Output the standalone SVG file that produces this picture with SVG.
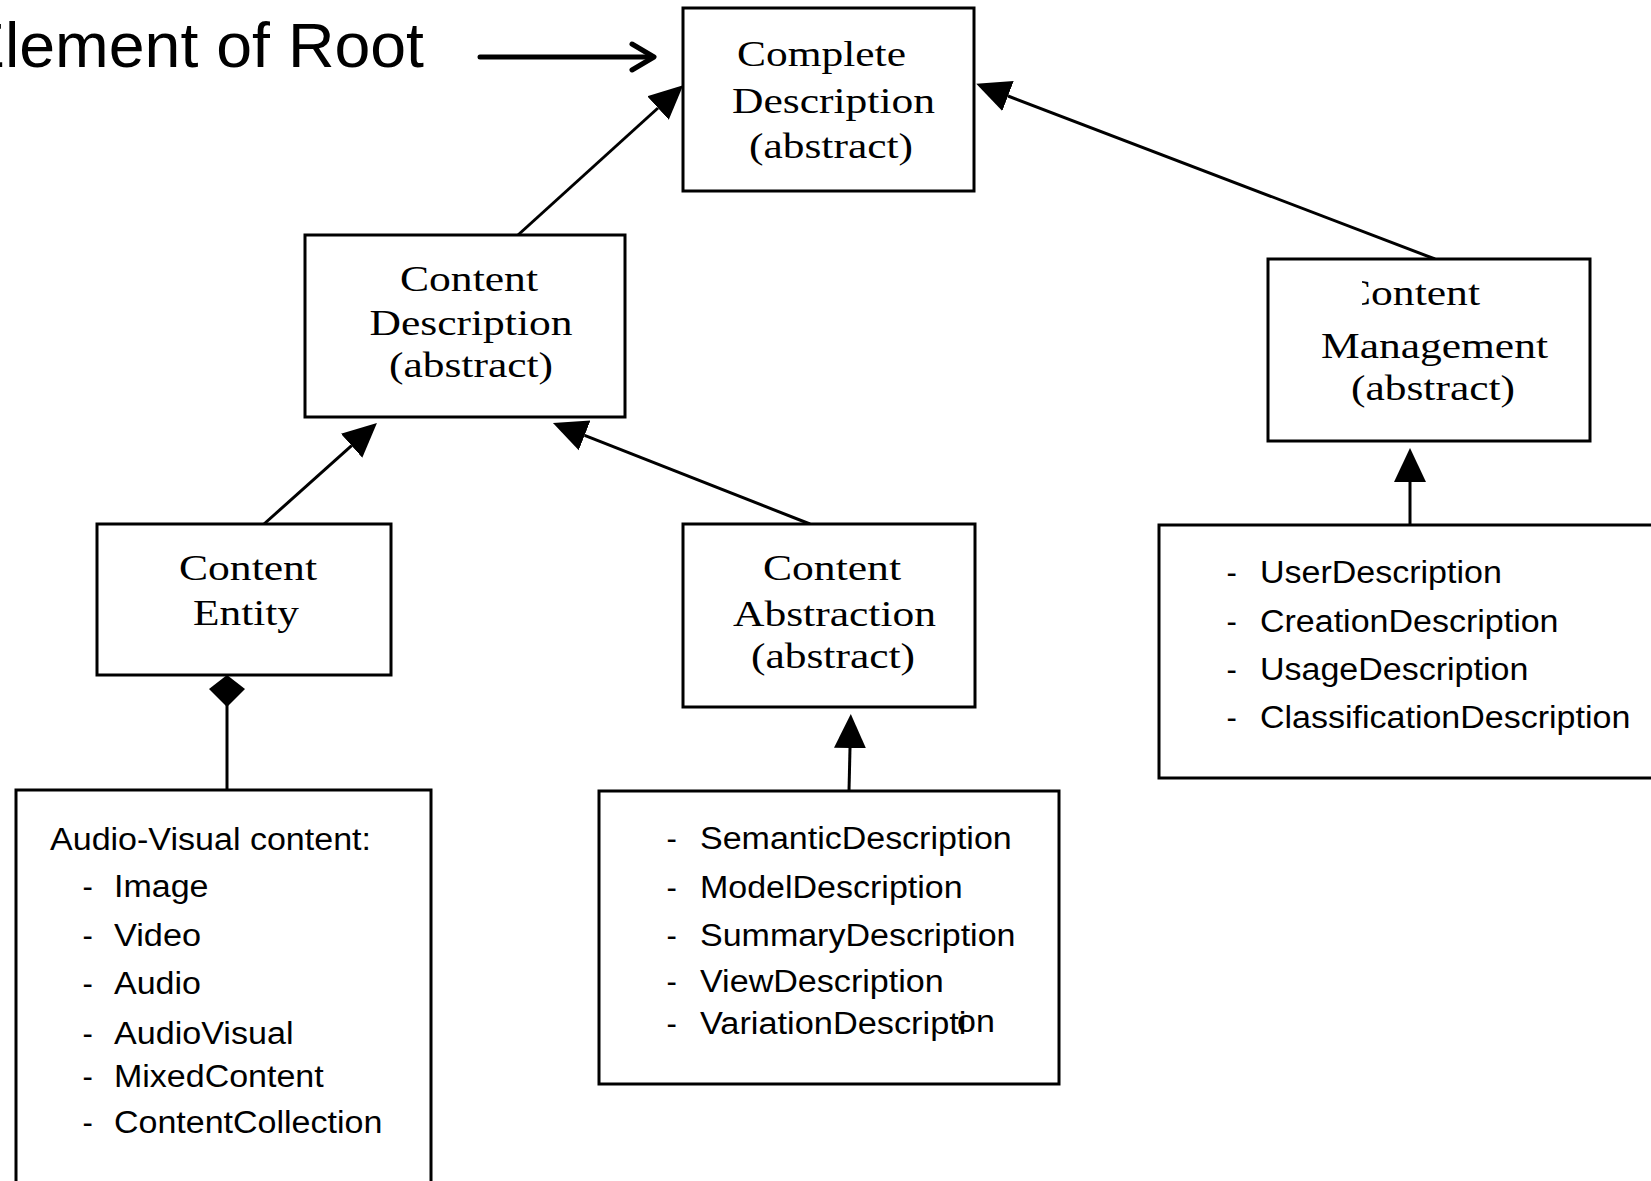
<svg xmlns="http://www.w3.org/2000/svg" width="1651" height="1181" viewBox="0 0 1651 1181">
<style>
.box{fill:#fff;stroke:#000;stroke-width:3}
.ser{font-family:"Liberation Serif","Times New Roman",serif;font-size:36px;fill:#000}
.san{font-family:"Liberation Sans",Arial,sans-serif;font-size:31px;fill:#000}
.big{font-family:"Liberation Sans",Arial,sans-serif;font-size:63px;fill:#000}
.ln{fill:none;stroke:#000;stroke-width:3}
</style>
<defs>
<marker id="tri" markerUnits="userSpaceOnUse" markerWidth="40" markerHeight="40" viewBox="0 -20 40 40" refX="0" refY="0" orient="auto">
<path d="M0,-16 L34,0 L0,16 Z" fill="#000"/>
</marker>
<clipPath id="cmclip"><rect x="1362" y="260" width="200" height="60"/></clipPath>
</defs>
<rect width="1651" height="1181" fill="#fff"/>

<g id="root-label">
<text class="big" x="-38" y="67" textLength="462" lengthAdjust="spacingAndGlyphs">Element of Root</text>
</g>

<g id="connectors">
<line class="ln" x1="480" y1="57" x2="652" y2="57" style="stroke-width:5" stroke-linecap="round"/>
<polyline points="632,44 654,57 632,70" fill="none" stroke="#000" stroke-width="5" stroke-linecap="round" stroke-linejoin="round"/>
<line class="ln" x1="518" y1="235" x2="658" y2="108" marker-end="url(#tri)"/>
<line class="ln" x1="1435" y1="259" x2="1008" y2="96" marker-end="url(#tri)"/>
<line class="ln" x1="264" y1="524" x2="351.6" y2="445.7" marker-end="url(#tri)"/>
<line class="ln" x1="810" y1="524" x2="584.6" y2="435.4" marker-end="url(#tri)"/>
<line class="ln" x1="849" y1="791" x2="850" y2="748" marker-end="url(#tri)"/>
<line class="ln" x1="1410" y1="525" x2="1410" y2="482" marker-end="url(#tri)"/>
<line class="ln" x1="227" y1="790" x2="227" y2="705"/>
<polygon points="227,675 245,689 227,707 209,689" fill="#000"/>
</g>

<g id="complete-description">
<rect class="box" x="683" y="8" width="291" height="183"/>
<text class="ser" x="737" y="66" textLength="169" lengthAdjust="spacingAndGlyphs">Complete</text>
<text class="ser" x="732" y="113" textLength="203" lengthAdjust="spacingAndGlyphs">Description</text>
<text class="ser" x="749" y="158" textLength="164" lengthAdjust="spacingAndGlyphs">(abstract)</text>
</g>

<g id="content-description">
<rect class="box" x="305" y="235" width="320" height="182"/>
<text class="ser" x="400" y="291" textLength="138" lengthAdjust="spacingAndGlyphs">Content</text>
<text class="ser" x="369.5" y="335" textLength="203" lengthAdjust="spacingAndGlyphs">Description</text>
<text class="ser" x="389" y="377" textLength="164" lengthAdjust="spacingAndGlyphs">(abstract)</text>
</g>

<g id="content-management">
<rect class="box" x="1268" y="259" width="322" height="182"/>
<text class="ser" x="1342" y="305" textLength="138" lengthAdjust="spacingAndGlyphs" clip-path="url(#cmclip)">Content</text>
<text class="ser" x="1321" y="358" textLength="227" lengthAdjust="spacingAndGlyphs">Management</text>
<text class="ser" x="1351" y="400" textLength="164" lengthAdjust="spacingAndGlyphs">(abstract)</text>
</g>

<g id="content-entity">
<rect class="box" x="97" y="524" width="294" height="151"/>
<text class="ser" x="179" y="580" textLength="138" lengthAdjust="spacingAndGlyphs">Content</text>
<text class="ser" x="193" y="625" textLength="106" lengthAdjust="spacingAndGlyphs">Entity</text>
</g>

<g id="content-abstraction">
<rect class="box" x="683" y="524" width="292" height="183"/>
<text class="ser" x="763" y="580" textLength="138" lengthAdjust="spacingAndGlyphs">Content</text>
<text class="ser" x="733" y="626" textLength="203" lengthAdjust="spacingAndGlyphs">Abstraction</text>
<text class="ser" x="751" y="668" textLength="164" lengthAdjust="spacingAndGlyphs">(abstract)</text>
</g>

<g id="av-content-list">
<rect class="box" x="16" y="790" width="415" height="420"/>
<text class="san" x="50" y="850" textLength="321" lengthAdjust="spacingAndGlyphs">Audio-Visual content:</text>
<text class="san" x="82.5" y="897">-</text>
<text class="san" x="114" y="897" textLength="94.5" lengthAdjust="spacingAndGlyphs">Image</text>
<text class="san" x="82.5" y="946">-</text>
<text class="san" x="114" y="946" textLength="87" lengthAdjust="spacingAndGlyphs">Video</text>
<text class="san" x="82.5" y="994">-</text>
<text class="san" x="114" y="994" textLength="87" lengthAdjust="spacingAndGlyphs">Audio</text>
<text class="san" x="82.5" y="1044">-</text>
<text class="san" x="114" y="1044" textLength="179.5" lengthAdjust="spacingAndGlyphs">AudioVisual</text>
<text class="san" x="82.5" y="1087">-</text>
<text class="san" x="114" y="1087" textLength="209.7" lengthAdjust="spacingAndGlyphs">MixedContent</text>
<text class="san" x="82.5" y="1133">-</text>
<text class="san" x="114" y="1133" textLength="268.3" lengthAdjust="spacingAndGlyphs">ContentCollection</text>
</g>

<g id="abstraction-list">
<rect class="box" x="599" y="791" width="460" height="293"/>
<text class="san" x="666.5" y="849">-</text>
<text class="san" x="700" y="849" textLength="311.7" lengthAdjust="spacingAndGlyphs">SemanticDescription</text>
<text class="san" x="666.5" y="898">-</text>
<text class="san" x="700" y="898" textLength="262.6" lengthAdjust="spacingAndGlyphs">ModelDescription</text>
<text class="san" x="666.5" y="946">-</text>
<text class="san" x="700" y="946" textLength="315.5" lengthAdjust="spacingAndGlyphs">SummaryDescription</text>
<text class="san" x="666.5" y="992">-</text>
<text class="san" x="700" y="992" textLength="243.7" lengthAdjust="spacingAndGlyphs">ViewDescription</text>
<text class="san" x="666.5" y="1034">-</text>
<text class="san" x="700" y="1034" textLength="266.4" lengthAdjust="spacingAndGlyphs">VariationDescripti</text>
<text class="san" x="957" y="1032" textLength="37.8" lengthAdjust="spacingAndGlyphs">on</text>
</g>

<g id="management-list">
<rect class="box" x="1159" y="525" width="560" height="253"/>
<text class="san" x="1226.5" y="583">-</text>
<text class="san" x="1260" y="583" textLength="241.8" lengthAdjust="spacingAndGlyphs">UserDescription</text>
<text class="san" x="1226.5" y="632">-</text>
<text class="san" x="1260" y="632" textLength="298.5" lengthAdjust="spacingAndGlyphs">CreationDescription</text>
<text class="san" x="1226.5" y="680">-</text>
<text class="san" x="1260" y="680" textLength="268.3" lengthAdjust="spacingAndGlyphs">UsageDescription</text>
<text class="san" x="1226.5" y="728">-</text>
<text class="san" x="1260" y="728" textLength="370.3" lengthAdjust="spacingAndGlyphs">ClassificationDescription</text>
</g>
</svg>
